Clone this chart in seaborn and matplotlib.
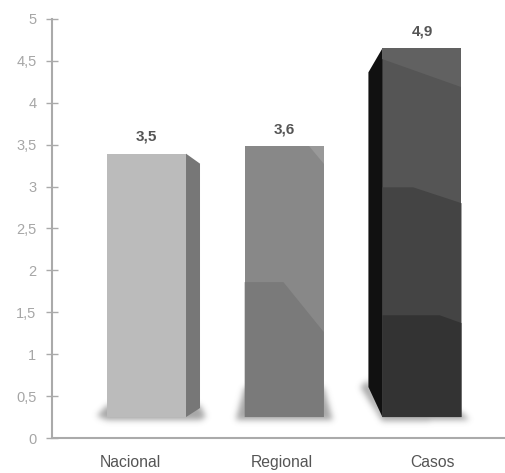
import numpy as np
import pandas as pd
import matplotlib
matplotlib.use("Agg")
import matplotlib.pyplot as plt
import seaborn as sns
from matplotlib.patches import Polygon
from matplotlib.path import Path

# ---- data -------------------------------------------------------------
categories = ["Nacional", "Regional", "Casos"]
values = [3.5, 3.6, 4.9]
value_labels = ["3,5", "3,6", "4,9"]
y_ticks = [0, 0.5, 1, 1.5, 2, 2.5, 3, 3.5, 4, 4.5, 5]
y_tick_labels = ["0", "0,5", "1", "1,5", "2", "2,5", "3", "3,5", "4", "4,5", "5"]

# ---- styling ----------------------------------------------------------
front_colors = ["#bbbbbb", "#888888", "#555555"]
AXIS_GREY = "#aaaaaa"

# perspective of the 3D scene: the bars stand on a floor slightly above
# the axis and their front plane is a little smaller than the axis scale
FLOOR = 0.25
DEPTH_SCALE = 0.898

sns.set_style("white")
plt.rcParams["font.family"] = ["Liberation Sans", "DejaVu Sans"]

W, H = 505, 473
fig = plt.figure(figsize=(W / 100, H / 100), dpi=100)
rect = [52 / W, 35 / H, 453 / W, 419 / H]

# visible value axis
ax = fig.add_axes(rect, zorder=0)
ax.set_xlim(-0.52, 2.48)
ax.set_ylim(0, 5)
ax.set_yticks(y_ticks)
ax.set_yticklabels(y_tick_labels)
ax.set_xticks(range(len(categories)))
ax.set_xticklabels(categories)
for s in ["top", "right"]:
    ax.spines[s].set_visible(False)
for s in ["left", "bottom"]:
    ax.spines[s].set_color(AXIS_GREY)
    ax.spines[s].set_linewidth(1.5)
ax.tick_params(axis="y", left=True, direction="inout", length=8, width=1,
               color=AXIS_GREY, pad=7.2, labelsize=10.5, labelcolor="#a6a6a6")
ax.tick_params(axis="x", bottom=False, length=0, pad=12, labelsize=11.3,
               labelcolor="#555555")

# front plane of the 3D bars
front = fig.add_axes(rect, zorder=1)
df = pd.DataFrame({"categoria": categories, "valor": values})
sns.barplot(data=df, x="categoria", y="valor", hue="categoria",
            palette=front_colors, width=0.574, saturation=1, legend=False,
            edgecolor="none", linewidth=0, ax=front)
front.set_xlim(-0.686, 2.603)
front.set_ylim(-FLOOR / DEPTH_SCALE, (5 - FLOOR) / DEPTH_SCALE)
front.set_axis_off()
front.patch.set_alpha(0)

fig.canvas.draw()
T = front.transData
Tinv = T.inverted()


def shift(pt, dx, dy):
    d = T.transform(pt) + np.array([dx, dy])
    return tuple(Tinv.transform(d))


bars = sorted(front.patches, key=lambda p: p.get_x())
geo = []
for b in bars:
    x0, w, h = b.get_x(), b.get_width(), b.get_height()
    geo.append((x0, x0 + w, w, h))
    b.set_zorder(2)

# side faces and shading facets
(nx0, nx1, nw, nh), (rx0, rx1, rw, rh), (cx0, cx1, cw, ch) = geo

facets = [
    # Nacional right side
    ([(nx1, nh), shift((nx1, nh), 14, -10), shift((nx1, 0), 14, 9), (nx1, 0)], "#777777"),
    # Regional lower facet and top corner highlight
    ([(rx0, 0), (rx0, 0.498 * rh), (rx0 + 0.49 * rw, 0.498 * rh), (rx1, 0.314 * rh), (rx1, 0)], "#7a7a7a"),
    ([(rx0 + 0.81 * rw, rh), (rx1, rh), (rx1, 0.934 * rh)], "#999999"),
    # Casos left side and facets
    ([(cx0, ch), shift((cx0, ch), -14, -24), shift((cx0, 0), -14, 30), (cx0, 0)], "#111111"),
    ([(cx0, 0.970 * ch), (cx0, ch), (cx1, ch), (cx1, 0.894 * ch)], "#616161"),
    ([(cx0, 0), (cx0, 0.623 * ch), (cx0 + 0.39 * cw, 0.623 * ch), (cx1, 0.58 * ch), (cx1, 0)], "#444444"),
    ([(cx0, 0), (cx0, 0.276 * ch), (cx0 + 0.725 * cw, 0.276 * ch), (cx1, 0.255 * ch), (cx1, 0)], "#333333"),
]
for pts, col in facets:
    front.add_patch(Polygon(pts, closed=True, facecolor=col, edgecolor="none", zorder=3))

# soft floor shadows below each bar, in display pixels
def disp(pt):
    return T.transform(pt)

shadow_polys = []
(ax0, ay0) = disp((nx0, 0)); (ax1, _) = disp((nx1, 0))
shadow_polys.append([(ax0 - 10, ay0 + 1), (ax0, ay0 + 12), (ax1 + 14, ay0 + 12),
                     (ax1 + 20, ay0), (ax1 + 14, ay0 - 3), (ax0, ay0 - 3)])
(bx0, by0) = disp((rx0, 0)); (bx1, _) = disp((rx1, 0))
shadow_polys.append([(bx0 - 9, by0 - 3), (bx0, by0 + 30), (bx1, by0 + 30), (bx1 + 9, by0 - 3)])
(qx0, qy0) = disp((cx0, 0)); (qx1, _) = disp((cx1, 0))
shadow_polys.append([(qx0 - 22, qy0 + 30), (qx0 - 14, qy0 + 37), (qx0, qy0 + 5),
                     (qx1, qy0 + 5), (qx1 + 8, qy0 - 3), (qx0, qy0 - 4)])

gx, gy = np.meshgrid(np.arange(W) + 0.5, H - (np.arange(H) + 0.5))
pts = np.column_stack([gx.ravel(), gy.ravel()])
mask = np.zeros(W * H)
for poly in shadow_polys:
    mask[Path(poly).contains_points(pts)] = 1.0
mask = mask.reshape(H, W)

sig = 3.0
k = np.arange(-10, 11)
kern = np.exp(-k ** 2 / (2 * sig ** 2))
kern /= kern.sum()
mask = np.apply_along_axis(lambda r: np.convolve(r, kern, mode="same"), 1, mask)
mask = np.apply_along_axis(lambda c: np.convolve(c, kern, mode="same"), 0, mask)

shadow = np.zeros((H, W, 4))
shadow[..., :3] = 0.42
shadow[..., 3] = np.clip(mask * 0.6, 0, 1)
fig.figimage(shadow, xo=0, yo=0, origin="upper", zorder=0.5)

# value labels above the bars
for (x0, x1, w, h), lab in zip(geo, value_labels):
    front.annotate(lab, ((x0 + x1) / 2, h), xytext=(0, 17), textcoords="offset pixels",
                   ha="center", va="center", fontsize=11, fontweight="bold",
                   color="#555555", zorder=5)

fig.savefig("out.png", dpi=100)
